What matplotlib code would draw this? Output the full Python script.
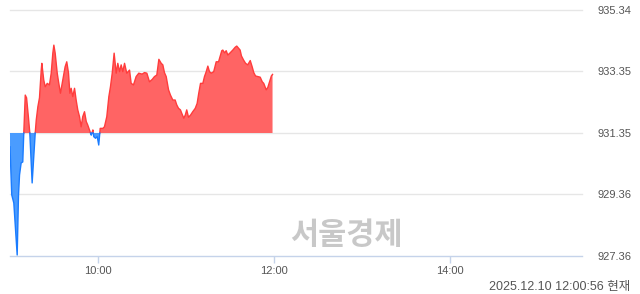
import numpy as np
import matplotlib
matplotlib.use("Agg")
from matplotlib import pyplot as plt

## Data: minutes after 09:00 and index value
minutes = [0, 1.2, 2.6, 4.9, 5.8, 6.5, 7.6, 8.7, 9.4, 10.4, 11.3, 12.6, 13.5, 15.1, 17.2,
           17.9, 19, 20.1, 21.3, 21.7, 23, 24, 25.4, 26.9, 28.1, 29.2, 29.9, 30.8, 32.2, 33.1,
           34.4, 36, 37.6, 38.7, 39.9, 40.8, 41.7, 42.8, 44, 45.1, 46.2, 47.4, 48.5, 49.6, 50.8,
           52, 53, 54.2, 55.4, 56.5, 57.1, 58.3, 59.5, 60.5, 61.5, 63.3, 64.4, 66, 67.4, 68.5,
           69.7, 71, 72.4, 73.5, 74.7, 75.8, 76.9, 78.1, 79.6, 81.5, 82.6, 84.2, 86, 87.8, 90.1,
           91.7, 93.3, 95.1, 97, 98.5, 100.1, 101.5, 103.1, 104.2, 105.3, 106.5, 108.1, 109.4,
           111, 112.6, 113.7, 114.9, 116.2, 117.1, 118.5, 119.5, 120.5, 121.7, 123.1, 124.6,
           126.3, 127.6, 128.7, 129.9, 131.5, 132.6, 133.8, 134.9, 136, 137.2, 138.9, 140.6,
           142.2, 143.5, 144.4, 145.1, 146.3, 147.4, 148.5, 150.1, 151.9, 153.5, 154.6, 155.8,
           156.9, 157.8, 159.2, 160.6, 162.1, 163.8, 165.1, 166.2, 167.4, 169, 170.6, 172, 173,
           174.7, 175.8, 177, 178.2, 179]
values = [930.90, 929.34, 929.08, 927.39, 929.34, 929.99, 930.38, 930.41, 931.35, 932.58,
          932.49, 931.84, 931.35, 929.73, 931.35, 931.77, 932.20, 932.49, 933.39, 933.61,
          933.07, 932.85, 932.96, 932.91, 933.29, 933.94, 934.20, 933.94, 933.29, 933.01,
          932.64, 933.07, 933.50, 933.66, 933.29, 932.64, 932.80, 932.53, 932.80, 932.42,
          932.10, 931.88, 931.55, 931.88, 932.04, 931.72, 931.61, 931.45, 931.28, 931.45,
          931.23, 931.18, 931.23, 930.96, 931.50, 931.50, 931.55, 931.88, 932.53, 932.85,
          933.29, 933.94, 933.29, 933.61, 933.34, 933.56, 933.34, 933.61, 933.29, 933.39,
          932.96, 932.91, 933.18, 933.29, 933.26, 933.31, 933.29, 933.01, 933.09, 933.18,
          933.23, 933.74, 933.61, 933.56, 933.31, 933.18, 932.75, 932.58, 932.42, 932.42,
          932.26, 932.15, 932.10, 931.99, 931.83, 931.93, 932.10, 931.86, 931.93, 932.04,
          932.15, 932.31, 932.64, 932.96, 932.96, 933.18, 933.34, 933.52, 933.34, 933.29,
          933.34, 933.66, 933.66, 933.88, 934.02, 934.04, 933.95, 934.02, 933.88, 933.95,
          934.04, 934.13, 934.17, 934.10, 934.04, 933.85, 933.72, 933.61, 933.56, 933.70,
          933.50, 933.31, 933.20, 933.18, 933.16, 933.01, 932.96, 932.75, 932.83, 933.01,
          933.20, 933.25]
base = 931.35
y_ticks = [927.36, 929.36, 931.35, 933.35, 935.34]
x_ticks = [60, 180, 300]
x_labels = ["10:00", "12:00", "14:00"]
stamp = "2025.12.10 12:00:56 현재"
watermark = "서울경제"

RED_FILL, RED_LINE = "#ff6464", "#ff3c3c"
BLUE_FILL, BLUE_LINE = "#4a9cff", "#1a7cff"

## insert crossing points so that the red and blue parts meet on the base line
t = np.array(minutes, dtype=float)
v = np.array(values, dtype=float)
tt, vv = [t[0]], [v[0]]
for i in range(1, len(t)):
    a, b = v[i - 1] - base, v[i] - base
    if a * b < 0:
        tc = t[i - 1] + (t[i] - t[i - 1]) * a / (a - b)
        tt.append(tc)
        vv.append(base)
    tt.append(t[i])
    vv.append(v[i])
tt, vv = np.array(tt), np.array(vv)

fig = plt.figure(figsize=(6.4, 2.94), dpi=100)
ax = fig.add_axes([10 / 640, 1 - 256 / 294, 572 / 640, 246 / 294])

for yt in y_ticks[1:]:
    ax.axhline(yt, color="#e6e6e6", lw=1, zorder=0, clip_on=False)

ax.fill_between(tt, vv, base, where=vv >= base, color=RED_FILL, lw=0, interpolate=True)
ax.fill_between(tt, vv, base, where=vv <= base, color=BLUE_FILL, lw=0, interpolate=True)
ax.plot(tt, np.where(vv >= base, vv, np.nan), color=RED_LINE, lw=1)
ax.plot(tt, np.where(vv <= base, vv, np.nan), color=BLUE_LINE, lw=1)

ax.set_xlim(0, 390)
ax.set_ylim(y_ticks[0], y_ticks[-1])
for s in ["top", "left", "right"]:
    ax.spines[s].set_visible(False)
ax.spines["bottom"].set_color("#c5d3ea")
ax.spines["bottom"].set_linewidth(1)

ax.yaxis.tick_right()
ax.set_yticks(y_ticks)
ax.set_yticklabels([f"{y:.2f}" for y in y_ticks])
ax.tick_params(axis="y", length=0, pad=11, labelsize=8, labelcolor="#555555")
ax.set_xticks(x_ticks)
ax.set_xticklabels(x_labels)
ax.tick_params(axis="x", length=5, width=1, color="#c5d3ea", pad=2.5,
               labelsize=8, labelcolor="#555555")
for lab in ax.get_xticklabels() + ax.get_yticklabels():
    lab.set_family(["Liberation Sans", "DejaVu Sans"])

fig.text(630 / 640, 1 - 287 / 294, stamp, ha="right", va="center", fontsize=9,
         color="#555555", family=["Liberation Sans", "Noto Sans CJK KR"])
fig.text(346 / 640, 1 - 235 / 294, watermark, ha="center", va="center", fontsize=22,
         fontweight="bold", color="#c8c8c8", family=["Noto Sans CJK KR"])

fig.savefig("out.png", dpi=100)
